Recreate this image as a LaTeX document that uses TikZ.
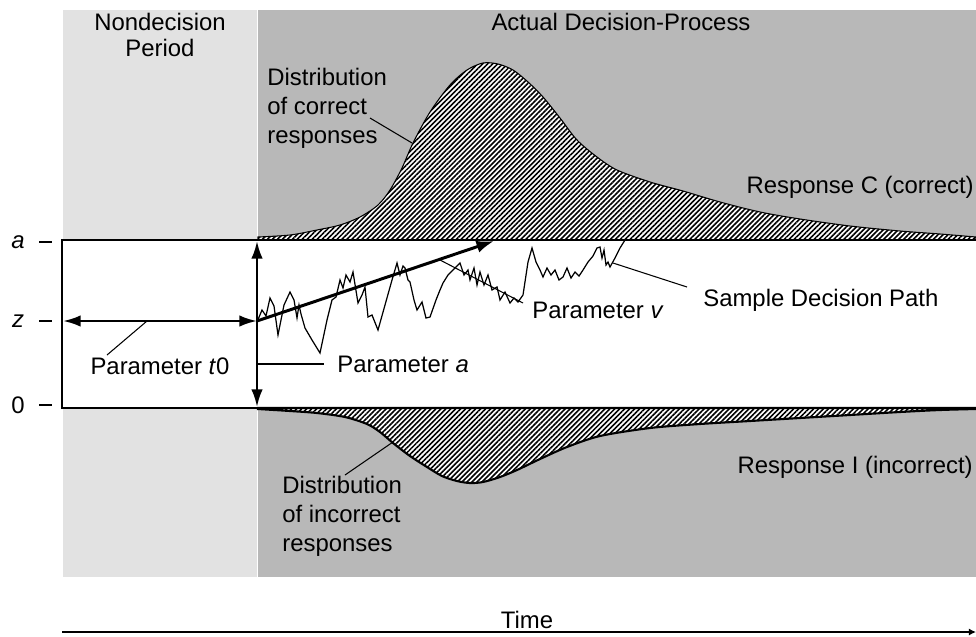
\documentclass[tikz,border=0pt]{standalone}
\usepackage{fontspec}
\setmainfont{Liberation Sans}
\usetikzlibrary{arrows.meta,patterns.meta}
\definecolor{lightpanel}{HTML}{E2E2E2}
\definecolor{darkpanel}{HTML}{B8B8B8}

\begin{document}
\begin{tikzpicture}[x=0.02cm,y=-0.02cm,
	lbl/.style={inner sep=0pt,font=\fontsize{13.6}{16.5}\selectfont},
	leader/.style={line width=0.6pt},
	hatched/.style={fill=white,postaction={pattern={Lines[angle=45,distance=2pt,line width=0.9pt]}}},
	bound/.style={line width=1.6pt},
	dblarrow/.style={line width=1.4pt,{Latex[length=10pt,width=6.5pt]}-{Latex[length=10pt,width=6.5pt]}}]
	%%%%% START %%%%%
	\useasboundingbox (0,0) rectangle (976,636);
	
	\fill[lightpanel] (63,10) rectangle (257,577);
	\fill[darkpanel] (258,10) rectangle (976,577);
	
	\fill[white] (62,240) rectangle (976,408);
	
	% distribution of correct responses
	\draw[hatched, line width=0.6pt] (258,240) -- plot[smooth] coordinates {(258,237) (290,235) (317,230) (340,225) (360,217) (378,205) (390,190) (402,168) (413,143) (430,112) (450,85) (467,70) (483,63) (498,64) (513,70) (528,82) (543,97) (560,118) (577,140) (597,157) (617,170) (650,182) (683,191) (720,202) (760,212) (800,219) (850,226) (900,231) (940,234) (976,237)} -- (976,240) -- cycle;
	
	% distribution of incorrect responses
	\draw[hatched, line width=1.2pt] (258,408) -- plot[smooth] coordinates {(258,409) (290,411) (317,413) (345,417) (367,424) (380,432) (393,443) (410,456) (427,467) (442,476) (457,481) (470,483) (483,482) (500,477) (517,470) (540,459) (567,447) (600,436) (650,428) (700,424) (750,421) (800,418) (850,415) (900,412) (940,410) (976,409)} -- (976,408) -- cycle;
	
	\draw[bound] (976,240) -- (62,240) -- (62,408) -- (976,408);
	
	\node[lbl] (nondec) at (160,35) [align=center, font=\fontsize{13.6}{15}\selectfont] {Nondecision\\Period};
	\node[lbl] (actual) at (621,22) {Actual Decision-Process};
	
	\node[lbl] (lblA) at (18,242) {\itshape a};
	\node[lbl] (lblZ) at (18,321) {\itshape z};
	\node[lbl] (lbl0) at (18,405) {0};
	\draw[line width=1.4pt] (39,242) -- (52,242);
	\draw[line width=1.4pt] (39,321) -- (52,321);
	\draw[line width=1.4pt] (39,405) -- (52,405);
	
	% sample path
	\draw[line width=0.7pt] plot coordinates {(257,322) (262,310) (266,316) (270,298) (274,306) (278,335) (284,305) (290,292) (294,300) (297,318) (299,305) (301,314) (305,328) (312,340) (320,353) (327,320) (332,300) (336,297) (340,280) (343,288) (346,275) (350,282) (353,272) (358,303) (362,295) (365,287) (368,317) (372,315) (378,330) (385,305) (392,280) (397,263) (400,275) (403,266) (405,268) (408,280) (410,282) (414,300) (417,310) (422,302) (426,318) (430,317) (436,300) (440,290) (443,283) (448,275) (453,270) (460,263) (464,275) (468,270) (470,280) (474,268) (477,285) (480,272) (484,285) (488,275) (492,290) (497,287) (500,300) (505,292) (510,303) (514,298) (518,302) (523,295) (528,262) (532,248) (536,262) (540,270) (543,277) (547,268) (551,275) (555,270) (559,280) (563,277) (567,268) (571,278) (575,272) (579,276) (583,270) (588,262) (593,256) (597,248) (600,247) (602,258) (604,250) (606,265) (608,262) (610,267) (615,258) (620,248) (625,240)};
	
	\coordinate (zL) at (63,321);
	\coordinate (zR) at (257,321);
	\coordinate (aTop) at (257,241);
	\coordinate (aBot) at (257,407);
	\coordinate (vEnd) at (494,241);
	\draw[dblarrow] (zL) -- (zR);
	\draw[dblarrow] (aTop) -- (aBot);
	\draw[line width=1.7pt,-{Latex[length=10pt,width=7pt]}] (zR) -- (vEnd);
	
	\node[lbl] (parT) at (160,366) {Parameter \textit{t}0};
	\node[lbl, anchor=west] (parA) at (337,364) {Parameter \textit{a}};
	\node[lbl, anchor=west] (parV) at (532,310) {Parameter \textit{v}};
	\node[lbl, anchor=west] (sample) at (703,300) {Sample Decision Path};
	\node[lbl, anchor=east] (respC) at (974,187) {Response C (correct)};
	\node[lbl, anchor=east] (respI) at (973,467) {Response I (incorrect)};
	\node[lbl, anchor=west, align=left, font=\fontsize{13.6}{16.5}\selectfont] (distC) at (267,108) {Distribution\\of correct\\responses};
	\node[lbl, anchor=west, align=left, font=\fontsize{13.6}{16.5}\selectfont] (distI) at (282,516) {Distribution\\of incorrect\\responses};
	
	% leaders
	\coordinate (t0pt) at (147,321);
	\coordinate (t0end) at (107,355);
	\draw[leader] (t0pt) -- (t0end);
	\coordinate (aPt) at (258,364);
	\draw[leader] (aPt) -- ([xshift=-0.26cm]parA.west);
	\coordinate (vPt) at (440,260);
	\coordinate (vEnd2) at (523,303);
	\draw[leader] (vPt) -- (vEnd2);
	\coordinate (sPt) at (613,263);
	\coordinate (sEnd) at (687,287);
	\draw[leader] (sPt) -- (sEnd);
	\coordinate (cPt) at (412,143);
	\coordinate (cEnd) at (370,118);
	\draw[leader] (cPt) -- (cEnd);
	\coordinate (iPt) at (393,442);
	\coordinate (iEnd) at (345,475);
	\draw[leader] (iPt) -- (iEnd);
	
	% time axis
	\node[lbl] (time) at (527,620) {Time};
	\draw[line width=1.2pt,-{Latex[length=4pt,width=4pt]}] (62,632) -- (976,632);
	%%%%% END %%%%%
\end{tikzpicture}
\end{document}
